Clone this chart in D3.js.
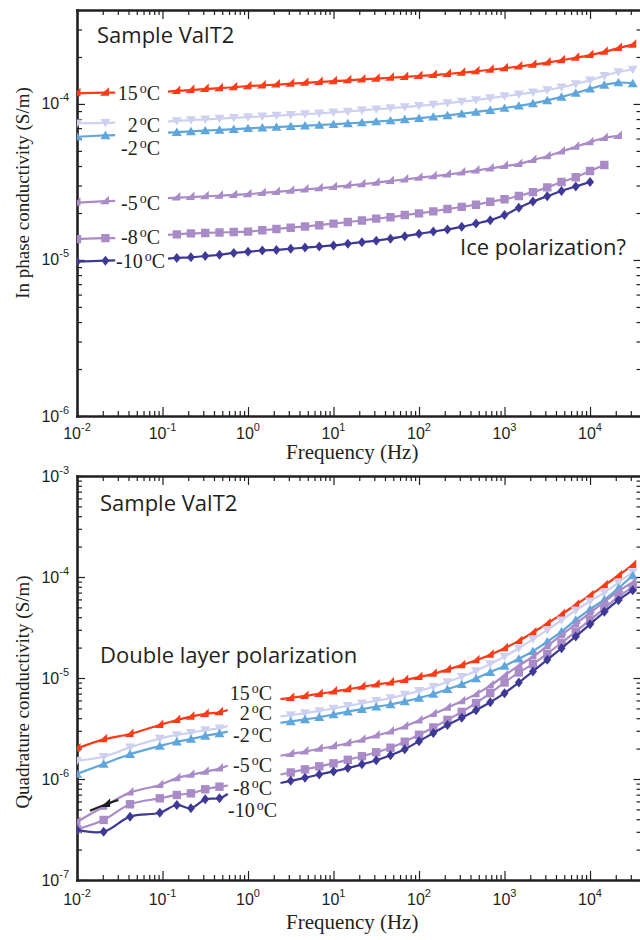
<!DOCTYPE html>
<html>
<head>
<meta charset="utf-8">
<script src="https://cdn.jsdelivr.net/npm/d3@7"></script>
<style>
  html, body { margin: 0; padding: 0; background: #fff; }
  svg { display: block; }
</style>
</head>
<body>
<svg id="chart" width="640" height="940"></svg>
<script>
// ---------------------------------------------------------------
// Measurement frequencies (Hz)
// ---------------------------------------------------------------
const freqInPhaseLow = [0.01, 0.0215, 0.028];
const freqInPhaseHigh = [0.116, 0.147, 0.215, 0.316, 0.464, 0.681, 1, 1.47, 2.15, 3.16, 4.64, 6.81,
  10, 14.7, 21.5, 31.6, 46.4, 68.1, 100, 147, 215, 316, 464, 681, 1000, 1470, 2150, 3160, 4640,
  6810, 10000, 14700, 21500, 31600];
const freqQuadLow = [0.01, 0.0205, 0.0417, 0.093, 0.147, 0.215, 0.316, 0.464, 0.58];
const freqQuadHigh = [2.4, 3.16, 4.64, 6.81, 10, 14.7, 21.5, 31.6, 46.4, 68.1, 100, 147, 215, 316,
  464, 681, 1000, 1470, 2150, 3160, 4640, 6810, 10000, 14700, 21500, 31600];
const freqQuadStray = [0.0142, 0.0222, 0.0304];

// Temperatures (degrees C), one series each
const temperatures = ["15", "2", "-2", "-5", "-8", "-10"];

// ---------------------------------------------------------------
// In-phase conductivity (S/m), series in temperature order
// ---------------------------------------------------------------
const inPhaseLow = [
  [1.17e-4, 1.18e-4, 1.18e-4],
  [7.52e-5, 7.56e-5, 7.58e-5],
  [6.16e-5, 6.29e-5, 6.32e-5],
  [2.33e-5, 2.38e-5, 2.39e-5],
  [1.36e-5, 1.38e-5, 1.38e-5],
  [9.75e-6, 9.90e-6, 9.93e-6]
];
const inPhaseHigh = [
  [1.20e-4, 1.211e-4, 1.227e-4, 1.245e-4, 1.262e-4, 1.279e-4, 1.300e-4, 1.315e-4, 1.330e-4, 1.349e-4,
   1.365e-4, 1.384e-4, 1.400e-4, 1.416e-4, 1.436e-4, 1.452e-4, 1.472e-4, 1.489e-4, 1.510e-4, 1.531e-4,
   1.556e-4, 1.585e-4, 1.618e-4, 1.656e-4, 1.694e-4, 1.738e-4, 1.786e-4, 1.841e-4, 1.905e-4, 1.977e-4,
   2.056e-4, 2.158e-4, 2.280e-4, 2.399e-4],
  [7.72e-5, 7.78e-5, 7.87e-5, 7.96e-5, 8.05e-5, 8.15e-5, 8.24e-5, 8.32e-5, 8.41e-5, 8.51e-5,
   8.61e-5, 8.71e-5, 8.83e-5, 8.95e-5, 9.10e-5, 9.25e-5, 9.40e-5, 9.55e-5, 9.73e-5, 9.91e-5,
   1.012e-4, 1.035e-4, 1.059e-4, 1.089e-4, 1.122e-4, 1.153e-4, 1.186e-4, 1.227e-4, 1.279e-4, 1.343e-4,
   1.416e-4, 1.514e-4, 1.603e-4, 1.663e-4],
  [6.54e-5, 6.59e-5, 6.67e-5, 6.75e-5, 6.82e-5, 6.90e-5, 6.98e-5, 7.05e-5, 7.11e-5, 7.19e-5,
   7.26e-5, 7.33e-5, 7.41e-5, 7.50e-5, 7.60e-5, 7.71e-5, 7.83e-5, 7.96e-5, 8.11e-5, 8.28e-5,
   8.45e-5, 8.65e-5, 8.87e-5, 9.12e-5, 9.42e-5, 9.73e-5, 1.009e-4, 1.054e-4, 1.109e-4, 1.175e-4,
   1.250e-4, 1.324e-4, 1.371e-4, 1.355e-4],
  [2.49e-5, 2.51e-5, 2.53e-5, 2.56e-5, 2.58e-5, 2.61e-5, 2.64e-5, 2.69e-5, 2.73e-5, 2.78e-5,
   2.83e-5, 2.88e-5, 2.94e-5, 3.00e-5, 3.06e-5, 3.13e-5, 3.21e-5, 3.28e-5, 3.37e-5, 3.44e-5,
   3.53e-5, 3.63e-5, 3.74e-5, 3.86e-5, 4.00e-5, 4.12e-5, 4.37e-5, 4.62e-5, 4.95e-5, 5.31e-5,
   5.69e-5, 6.05e-5, 6.24e-5],
  [1.45e-5, 1.46e-5, 1.48e-5, 1.49e-5, 1.50e-5, 1.51e-5, 1.52e-5, 1.55e-5, 1.58e-5, 1.61e-5,
   1.64e-5, 1.67e-5, 1.71e-5, 1.75e-5, 1.79e-5, 1.84e-5, 1.88e-5, 1.94e-5, 1.99e-5, 2.05e-5,
   2.12e-5, 2.19e-5, 2.26e-5, 2.36e-5, 2.45e-5, 2.57e-5, 2.72e-5, 2.92e-5, 3.16e-5, 3.39e-5,
   3.72e-5, 4.06e-5],
  [1.02e-5, 1.03e-5, 1.04e-5, 1.06e-5, 1.08e-5, 1.11e-5, 1.13e-5, 1.15e-5, 1.16e-5, 1.18e-5,
   1.20e-5, 1.22e-5, 1.24e-5, 1.27e-5, 1.30e-5, 1.33e-5, 1.37e-5, 1.42e-5, 1.47e-5, 1.52e-5,
   1.57e-5, 1.63e-5, 1.71e-5, 1.80e-5, 1.94e-5, 2.16e-5, 2.37e-5, 2.56e-5, 2.77e-5, 2.96e-5,
   3.16e-5]
];

// ---------------------------------------------------------------
// Quadrature conductivity (S/m), series in temperature order
// ---------------------------------------------------------------
const quadLow = [
  [2.01e-6, 2.47e-6, 2.79e-6, 3.43e-6, 3.84e-6, 4.14e-6, 4.41e-6, 4.57e-6, 4.82e-6],
  [1.52e-6, 1.66e-6, 2.06e-6, 2.51e-6, 2.73e-6, 2.87e-6, 3.05e-6, 3.18e-6, 3.35e-6],
  [1.12e-6, 1.41e-6, 1.76e-6, 2.12e-6, 2.34e-6, 2.49e-6, 2.67e-6, 2.83e-6, 2.94e-6],
  [3.78e-7, 5.32e-7, 7.33e-7, 8.73e-7, 1.02e-6, 1.10e-6, 1.18e-6, 1.27e-6, 1.35e-6],
  [3.18e-7, 3.93e-7, 5.62e-7, 6.44e-7, 6.95e-7, 7.21e-7, 7.91e-7, 8.39e-7, 8.59e-7],
  [3.13e-7, 3.01e-7, 4.24e-7, 4.63e-7, 5.53e-7, 5.13e-7, 6.29e-7, 6.44e-7, 7.10e-7]
];
const quadHigh = [
  [6.17e-6, 6.35e-6, 6.64e-6, 6.95e-6, 7.33e-6, 7.74e-6, 8.18e-6, 8.61e-6, 9.02e-6, 9.55e-6,
   1.023e-5, 1.10e-5, 1.21e-5, 1.34e-5, 1.50e-5, 1.70e-5, 1.97e-5, 2.33e-5, 2.82e-5, 3.47e-5,
   4.27e-5, 5.31e-5, 6.61e-5, 8.28e-5, 1.035e-4, 1.318e-4],
  [4.17e-6, 4.29e-6, 4.49e-6, 4.72e-6, 4.99e-6, 5.30e-6, 5.62e-6, 5.96e-6, 6.34e-6, 6.84e-6,
   7.45e-6, 8.20e-6, 9.12e-6, 1.028e-5, 1.175e-5, 1.374e-5, 1.63e-5, 1.97e-5, 2.42e-5, 2.99e-5,
   3.73e-5, 4.68e-5, 5.75e-5, 7.00e-5, 8.81e-5, 1.122e-4],
  [3.59e-6, 3.72e-6, 3.89e-6, 4.09e-6, 4.35e-6, 4.65e-6, 4.92e-6, 5.19e-6, 5.47e-6, 5.86e-6,
   6.34e-6, 6.95e-6, 7.73e-6, 8.67e-6, 9.89e-6, 1.143e-5, 1.318e-5, 1.549e-5, 1.84e-5, 2.29e-5,
   2.88e-5, 3.76e-5, 4.79e-5, 5.96e-5, 7.76e-5, 1.035e-4],
  [1.70e-6, 1.77e-6, 1.87e-6, 1.99e-6, 2.11e-6, 2.26e-6, 2.45e-6, 2.69e-6, 2.95e-6, 3.31e-6,
   3.80e-6, 4.39e-6, 5.07e-6, 5.89e-6, 6.92e-6, 8.41e-6, 1.059e-5, 1.324e-5, 1.63e-5, 2.07e-5,
   2.66e-5, 3.43e-5, 4.42e-5, 5.66e-5, 7.24e-5, 8.81e-5],
  [1.109e-6, 1.161e-6, 1.245e-6, 1.334e-6, 1.429e-6, 1.549e-6, 1.679e-6, 1.84e-6, 2.04e-6, 2.34e-6,
   2.74e-6, 3.24e-6, 3.85e-6, 4.62e-6, 5.65e-6, 7.08e-6, 9.02e-6, 1.135e-5, 1.374e-5, 1.738e-5,
   2.23e-5, 2.88e-5, 3.76e-5, 4.90e-5, 6.38e-5, 7.94e-5],
  [9.12e-7, 9.59e-7, 1.028e-6, 1.107e-6, 1.189e-6, 1.282e-6, 1.396e-6, 1.531e-6, 1.718e-6, 1.972e-6,
   2.37e-6, 2.85e-6, 3.43e-6, 4.03e-6, 4.79e-6, 5.75e-6, 7.08e-6, 9.02e-6, 1.161e-5, 1.514e-5,
   1.97e-5, 2.58e-5, 3.40e-5, 4.52e-5, 5.89e-5, 7.41e-5]
];
// short stray trace drawn in black near the -5 C curve
const quadStray = [4.85e-7, 5.65e-7, 6.19e-7];

// Axis tick decades (exponents of ten)
const freqTickExps = [-2, -1, 0, 1, 2, 3, 4];
const inPhaseTickExps = [-6, -5, -4];
const quadTickExps = [-7, -6, -5, -4, -3];

// ---------------------------------------------------------------
// Styling
// ---------------------------------------------------------------
const seriesColors = ["#ff3a17", "#cdd1ef", "#5ea6dc", "#a98bc7", "#a98bc7", "#3e3997"];
const seriesShapes = ["wedge", "down", "up", "wedge", "square", "diamond"];
const ink = "#231f20";
const serif = "'Liberation Serif', 'Times New Roman', serif";
const sans = "'Liberation Sans', Arial, sans-serif";
const noteFont = "'Open Sans', 'Noto Sans', sans-serif";

const shapePaths = {
  wedge: "M-5.5,3L3.5,3L3.5,-5.5Z",
  down: "M-5,-3.8L5,-3.8L0,4.6Z",
  up: "M-5,3.8L5,3.8L0,-4.6Z",
  square: "M-4.2,-4.2H4.2V4.2H-4.2Z",
  diamond: "M0,-5L4,0L0,5L-4,0Z"
};

const svg = d3.select("#chart");
const plotLeft = 77, plotRight = 641.5;
const x = d3.scaleLog().domain([0.01, 4e4]).range([plotLeft, plotRight]);

function minorValues(domain) {
  const out = [];
  const lo = Math.floor(Math.log10(domain[0])), hi = Math.ceil(Math.log10(domain[1]));
  for (let e = lo; e <= hi; e++) {
    for (let m = 2; m <= 9; m++) {
      const v = m * Math.pow(10, e);
      if (v > domain[0] * 1.0001 && v < domain[1] * 0.9999) out.push(v);
    }
  }
  return out;
}

function powerLabel(sel, e, raise) {
  sel.append("tspan").text("10");
  sel.append("tspan").attr("dy", -raise).attr("font-size", 11).text(e);
}

function styleAxis(g, width) {
  g.select(".domain").attr("stroke", ink).attr("stroke-width", width).attr("stroke-linecap", "square");
  g.selectAll(".tick line").attr("stroke", ink).attr("stroke-width", 1.2);
  g.selectAll(".tick text").remove();
}

// marker-less end points of a segment: "first" and/or "last"
function isBare(seg, i, n) {
  return (seg.bare.includes("first") && i === 0) || (seg.bare.includes("last") && i === n - 1);
}

function drawPanel(cfg, idx) {
  const y = d3.scaleLog().domain(cfg.yDomain).range([cfg.bottom, cfg.top]);
  const g = svg.append("g");

  const clipId = "clip" + idx;
  svg.append("defs").append("clipPath").attr("id", clipId)
    .append("rect").attr("x", plotLeft).attr("y", cfg.top)
    .attr("width", plotRight - plotLeft).attr("height", cfg.bottom - cfg.top);

  const majorX = freqTickExps.map(e => Math.pow(10, e));
  const majorY = cfg.tickExps.map(e => Math.pow(10, e));
  const minorX = minorValues(x.domain());
  const minorY = minorValues(cfg.yDomain);

  // minor ticks on all four sides
  const mb = g.append("g").attr("transform", `translate(0,${cfg.bottom})`)
    .call(d3.axisBottom(x).tickValues(minorX).tickSize(-5).tickSizeOuter(0));
  const mt = g.append("g").attr("transform", `translate(0,${cfg.top})`)
    .call(d3.axisTop(x).tickValues(minorX).tickSize(-5).tickSizeOuter(0));
  const ml = g.append("g").attr("transform", `translate(${plotLeft},0)`)
    .call(d3.axisLeft(y).tickValues(minorY).tickSize(-5).tickSizeOuter(0));
  const mr = g.append("g").attr("transform", `translate(${plotRight},0)`)
    .call(d3.axisRight(y).tickValues(minorY).tickSize(-5).tickSizeOuter(0));
  [mb, mt, ml, mr].forEach(a => { styleAxis(a, 0); a.select(".domain").remove(); });

  // major ticks and frame
  const ab = g.append("g").attr("transform", `translate(0,${cfg.bottom})`)
    .call(d3.axisBottom(x).tickValues(majorX).tickSize(-9).tickSizeOuter(0));
  const at = g.append("g").attr("transform", `translate(0,${cfg.top})`)
    .call(d3.axisTop(x).tickValues(majorX).tickSize(-9).tickSizeOuter(0));
  const al = g.append("g").attr("transform", `translate(${plotLeft},0)`)
    .call(d3.axisLeft(y).tickValues(majorY).tickSize(-8).tickSizeOuter(0));
  const ar = g.append("g").attr("transform", `translate(${plotRight},0)`)
    .call(d3.axisRight(y).tickValues(majorY).tickSize(-8).tickSizeOuter(0));
  [ab, at, al, ar].forEach(a => styleAxis(a, 2.6));

  // tick labels
  majorX.forEach((v, i) => {
    const t = g.append("text").attr("x", x(v)).attr("y", cfg.bottom + cfg.xLabelOffset)
      .attr("text-anchor", "middle").attr("font-family", sans).attr("font-size", 16).attr("fill", ink);
    powerLabel(t, freqTickExps[i], 8);
  });
  majorY.forEach((v, i) => {
    const t = g.append("text").attr("x", plotLeft - 8).attr("y", y(v) + 5.5)
      .attr("text-anchor", "end").attr("font-family", sans).attr("font-size", 16).attr("fill", ink);
    powerLabel(t, cfg.tickExps[i], 8);
  });

  // axis titles
  g.append("text").attr("x", (plotLeft + plotRight) / 2 - 7).attr("y", cfg.xTitleY)
    .attr("text-anchor", "middle").attr("font-family", serif).attr("font-size", 21)
    .attr("fill", ink).text("Frequency (Hz)");
  g.append("text").attr("transform", `translate(29,${cfg.yTitleCenter}) rotate(-90)`)
    .attr("text-anchor", "middle").attr("font-family", serif).attr("font-size", 19)
    .attr("fill", ink).text(cfg.yTitle);

  // data
  const line = d3.line().x(d => x(d.f)).y(d => y(d.v)).curve(d3.curveCatmullRom.alpha(0.5));
  const plot = g.append("g").attr("clip-path", `url(#${clipId})`);

  cfg.segments.forEach(seg => {
    seg.values.forEach((vals, s) => {
      const pts = vals.map((v, i) => ({ f: seg.freqs[i], v, i }));
      plot.append("path").datum(pts).attr("d", line)
        .attr("fill", "none").attr("stroke", seriesColors[s]).attr("stroke-width", 2.2)
        .attr("stroke-linejoin", "round");
      plot.selectAll(null).data(pts.filter(p => !isBare(seg, p.i, pts.length)))
        .enter().append("path")
        .attr("d", shapePaths[seriesShapes[s]])
        .attr("transform", p => `translate(${x(p.f)},${y(p.v)})`)
        .attr("fill", seriesColors[s]);
    });
  });

  if (cfg.stray) {
    const pts = cfg.stray.values.map((v, i) => ({ f: cfg.stray.freqs[i], v, i }));
    plot.append("path").datum(pts).attr("d", line)
      .attr("fill", "none").attr("stroke", "#1e1e1e").attr("stroke-width", 2.2);
    plot.append("path").attr("d", shapePaths.wedge)
      .attr("transform", `translate(${x(pts[1].f)},${y(pts[1].v)})`).attr("fill", "#1e1e1e");
  }

  // temperature labels
  temperatures.forEach((t, s) => {
    const [lx, ly] = cfg.labelAnchors[s];
    const txt = g.append("text").attr("x", lx).attr("y", ly).attr("text-anchor", "end")
      .attr("font-family", serif).attr("font-size", 20).attr("fill", ink);
    txt.append("tspan").text(t);
    txt.append("tspan").attr("dx", 2).attr("dy", -7).attr("font-size", 14).text("o");
    txt.append("tspan").attr("dy", 7).text("C");
  });

  // annotations
  cfg.notes.forEach(([str, nx, ny]) => {
    g.append("text").attr("x", nx).attr("y", ny).attr("font-family", noteFont)
      .attr("font-size", 22).attr("fill", ink).text(str);
  });
}

const panels = [
  {
    top: 10, bottom: 416, yDomain: [1e-6, 4e-4], tickExps: inPhaseTickExps,
    yTitle: "In phase conductivity (S/m)", yTitleCenter: 193, xTitleY: 459, xLabelOffset: 22.5,
    segments: [
      { freqs: freqInPhaseLow, values: inPhaseLow, bare: ["last"] },
      { freqs: freqInPhaseHigh, values: inPhaseHigh, bare: ["first"] }
    ],
    labelAnchors: [[160, 100], [160, 132], [160, 155], [160, 210], [160, 244], [165, 268]],
    notes: [["Sample ValT2", 97, 43], ["Ice polarization?", 460, 255]]
  },
  {
    top: 476, bottom: 880, yDomain: [1e-7, 1e-3], tickExps: quadTickExps,
    yTitle: "Quadrature conductivity (S/m)", yTitleCenter: 692, xTitleY: 929, xLabelOffset: 25,
    segments: [
      { freqs: freqQuadLow, values: quadLow, bare: ["last"] },
      { freqs: freqQuadHigh, values: quadHigh, bare: ["first"] }
    ],
    stray: { freqs: freqQuadStray, values: quadStray },
    labelAnchors: [[272, 700], [272, 720], [272, 742], [272, 772], [272, 795], [277, 817]],
    notes: [["Sample ValT2", 100, 511], ["Double layer polarization", 100, 663]]
  }
];

panels.forEach(drawPanel);
</script>
</body>
</html>
